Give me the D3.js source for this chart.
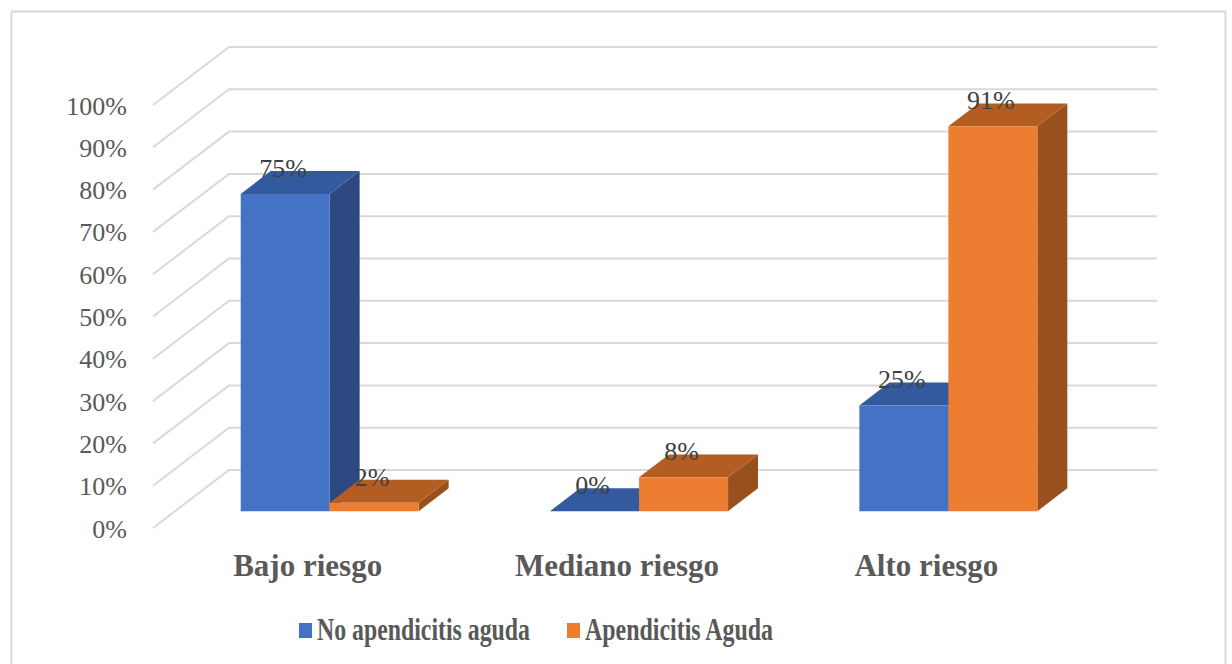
<!DOCTYPE html>
<html>
<head>
<meta charset="utf-8">
<script src="https://cdn.jsdelivr.net/npm/d3@7"></script>
<style>
  html, body { margin: 0; padding: 0; background: #fff; }
  svg { display: block; }
  text { font-family: "Liberation Serif", "Times New Roman", "DejaVu Serif", serif; }
</style>
</head>
<body>
<svg id="chart" width="1232" height="664"></svg>
<script>
// Chart data
const categories = ["Bajo riesgo", "Mediano riesgo", "Alto riesgo"];
const seriesNames = ["No apendicitis aguda", "Apendicitis Aguda"];
const noApendicitis = [0.75, 0.00, 0.25];
const apendicitis = [0.02, 0.08, 0.91];
const yTicks = [0, 0.1, 0.2, 0.3, 0.4, 0.5, 0.6, 0.7, 0.8, 0.9, 1.0];

const svg = d3.select("#chart");

// Palette: front face, top face, side face per series
const palette = [
  { front: "#4472C4", top: "#335A9E", side: "#2B4880" },
  { front: "#ED7D31", top: "#B45D22", side: "#98501D" }
];

// 3D projection: depth 0 = front of the floor, depth 1 = back wall
const DEPTH_DX = 76, DEPTH_DY = -58;
const floorY = 528;
const x = d3.scaleBand().domain(categories).range([153, 1081]).paddingInner(0).paddingOuter(0);
const y = d3.scaleLinear().domain([0, 1]).range([floorY, floorY - 423]);
const proj = (px, v, depth) => [px + DEPTH_DX * depth, y(v) + DEPTH_DY * depth];

// Outer frame
svg.append("rect")
  .attr("x", 11.5).attr("y", 11.5).attr("width", 1214).attr("height", 700)
  .attr("fill", "none").attr("stroke", "#D9D9D9").attr("stroke-width", 2);

// Gridlines: left wall diagonals and back wall horizontals
const grid = svg.append("g").attr("stroke", "#D9D9D9").attr("stroke-width", 2).attr("fill", "none");
const [x0, x1] = x.range();
yTicks.forEach(t => {
  const a = proj(x0, t, 0), b = proj(x0, t, 1), c = proj(x1, t, 1);
  grid.append("path").attr("d", `M${a[0]},${a[1]}L${b[0]},${b[1]}L${c[0]},${c[1]}`);
});

// Y tick labels
svg.append("g").selectAll("text").data(yTicks).join("text")
  .attr("x", 127).attr("y", d => y(d) + 1)
  .attr("text-anchor", "end").attr("dominant-baseline", "central")
  .attr("font-size", 26).attr("fill", "#595959")
  .text(d3.format(".0%"));

// Bars
const barW = 89;
const dFront = 0.29, dBack = 0.684;
const series = [noApendicitis, apendicitis];
const barsG = svg.append("g");
const poly = pts => "M" + pts.map(p => p.join(",")).join("L") + "Z";

series.forEach((vals, si) => {
  const col = palette[si];
  vals.forEach((v, ci) => {
    const cx = x(categories[ci]) + x.bandwidth() / 2;
    const left = cx - barW + si * barW, right = left + barW;
    const fbl = proj(left, 0, dFront), fbr = proj(right, 0, dFront);
    const ftl = proj(left, v, dFront), ftr = proj(right, v, dFront);
    const btl = proj(left, v, dBack), btr = proj(right, v, dBack), bbr = proj(right, 0, dBack);
    const g = barsG.append("g");
    // side face
    g.append("path").attr("d", poly([fbr, ftr, btr, bbr])).attr("fill", col.side);
    // top face
    g.append("path").attr("d", poly([ftl, ftr, btr, btl])).attr("fill", col.top);
    // front face
    if (v > 0) {
      g.append("path").attr("d", poly([fbl, fbr, ftr, ftl])).attr("fill", col.front);
    }
  });
});

// Data labels
const labelsG = svg.append("g")
  .attr("font-size", 26).attr("fill", "#404040").attr("text-anchor", "middle");
series.forEach((vals, si) => {
  vals.forEach((v, ci) => {
    const cx = x(categories[ci]) + x.bandwidth() / 2;
    const mid = cx - barW / 2 + si * barW;
    const p = proj(mid, v, dFront);
    labelsG.append("text").attr("x", p[0] - 2).attr("y", p[1] - 17).text(d3.format(".0%")(v));
  });
});

// Category labels
svg.append("g").selectAll("text").data(categories).join("text")
  .attr("x", d => x(d) + x.bandwidth() / 2)
  .attr("y", 576)
  .attr("text-anchor", "middle")
  .attr("font-weight", "bold").attr("font-size", 31).attr("fill", "#595959")
  .text(d => d);

// Legend
const legendItems = [
  { name: seriesNames[0], color: palette[0].front, sx: 299, tx: 317, w: 213 },
  { name: seriesNames[1], color: palette[1].front, sx: 567, tx: 585, w: 188 }
];
const lg = svg.append("g");
legendItems.forEach(it => {
  lg.append("rect").attr("x", it.sx).attr("y", 623).attr("width", 13).attr("height", 15).attr("fill", it.color);
  lg.append("text").attr("x", it.tx).attr("y", 640)
    .attr("font-weight", "bold").attr("font-size", 31).attr("fill", "#595959")
    .attr("textLength", it.w).attr("lengthAdjust", "spacingAndGlyphs")
    .text(it.name);
});
</script>
</body>
</html>
